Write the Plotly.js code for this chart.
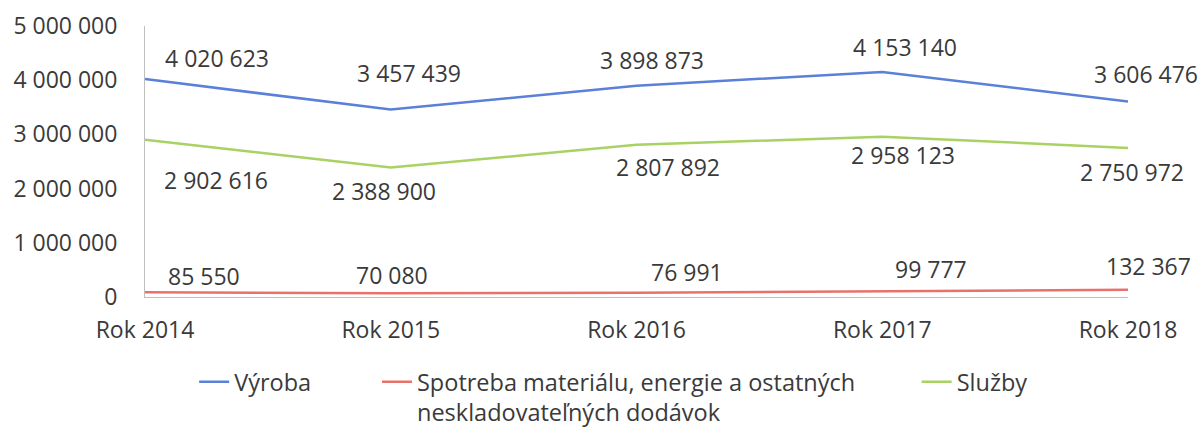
<!DOCTYPE html>
<html>
<head>
<meta charset="utf-8">
<script src="https://cdn.plot.ly/plotly-3.0.1.min.js"></script>
<style>html,body{margin:0;padding:0;background:#fff;}#chart{width:1201px;height:432px;}</style>
</head>
<body>
<div id="chart"></div>
<script>
// ---- data ----
const categories = ['Rok 2014', 'Rok 2015', 'Rok 2016', 'Rok 2017', 'Rok 2018'];
const vyroba = [4020623, 3457439, 3898873, 4153140, 3606476];
const spotreba = [85550, 70080, 76991, 99777, 132367];
const sluzby = [2902616, 2388900, 2807892, 2958123, 2750972];
const seriesNames = ['Výroba', 'Spotreba materiálu, energie a ostatných<br>neskladovateľných dodávok', 'Služby'];
const yTicks = [0, 1000000, 2000000, 3000000, 4000000, 5000000];

// ---- style ----
const colors = ['#5b80d8', '#e8726b', '#a8d263'];
const textColor = '#3a3a3a';
const font = 'Open Sans, Noto Sans, sans-serif';
// pixel offsets of each data label relative to its point [dx, dy(up)]
const labelShift = [
  [[72, 21], [18, 37], [15, 26], [23, 25], [18, 28]],
  [[59, 16], [1, 18], [50, 21], [49, 23], [20, 24]],
  [[71, -40], [-7, -23], [31, -22], [21, -18], [4, -24]]
];
const legendIds = ['legend', 'legend2', 'legend3'];
const legendX = [0.050, 0.236, 0.785];

function fmt(v) { return String(v).replace(/\B(?=(\d{3})+(?!\d))/g, ' '); }

const allSeries = [vyroba, spotreba, sluzby];
const traces = allSeries.map((vals, i) => ({
  type: 'scatter', mode: 'lines', x: categories, y: vals, name: seriesNames[i],
  legend: legendIds[i],
  line: {color: colors[i], width: 2.5}, hoverinfo: 'skip'
}));

const annotations = [];
allSeries.forEach((vals, i) => {
  vals.forEach((v, j) => {
    annotations.push({
      x: categories[j], y: v, xref: 'x', yref: 'y', text: fmt(v), showarrow: false,
      xshift: labelShift[i][j][0], yshift: labelShift[i][j][1],
      font: {family: font, size: 23, color: textColor}
    });
  });
});

const layout = {
  width: 1201, height: 432,
  margin: {l: 145, r: 73, t: 26, b: 135, autoexpand: false},
  paper_bgcolor: '#fff', plot_bgcolor: '#fff',
  separators: ', ',
  font: {family: font, size: 23, color: textColor},
  showlegend: true,
  xaxis: {
    type: 'category', range: [0, 4], showgrid: false, zeroline: false,
    showline: true, linecolor: '#bfbfbf', linewidth: 1, ticks: '',
    ticklabelstandoff: 12, tickfont: {family: font, size: 23, color: textColor},
    fixedrange: true
  },
  yaxis: {
    range: [0, 5000000], tickvals: yTicks, ticktext: yTicks.map(fmt),
    showgrid: false, zeroline: false, showline: true, linecolor: '#bfbfbf', linewidth: 1,
    ticks: '', ticklabelstandoff: 22, tickfont: {family: font, size: 23, color: textColor},
    fixedrange: true
  },
  annotations: annotations
};
legendIds.forEach((id, i) => {
  layout[id] = {
    orientation: 'h', x: legendX[i], xanchor: 'left', y: -0.232, yanchor: 'top',
    valign: 'top', bgcolor: 'rgba(0,0,0,0)',
    font: {family: font, size: 23.5, color: textColor}
  };
});

Plotly.newPlot('chart', traces, layout, {staticPlot: true, displayModeBar: false});
</script>
</body>
</html>
